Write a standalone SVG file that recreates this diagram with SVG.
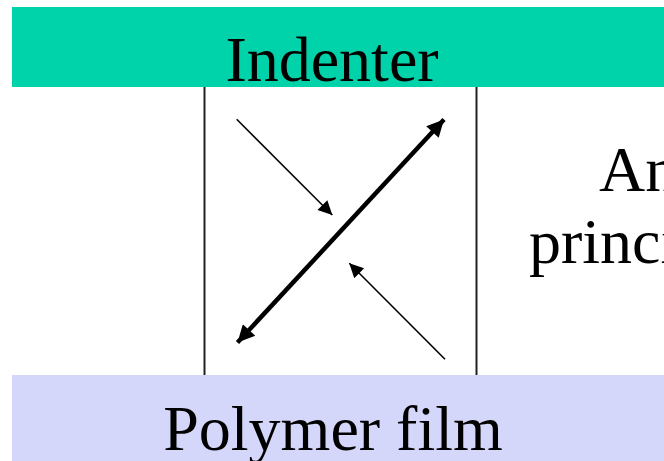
<svg xmlns="http://www.w3.org/2000/svg" width="664" height="461" viewBox="0 0 664 461">
<defs>
<style>
.lbl{font-family:"Liberation Serif","Times New Roman",serif;font-size:64px;fill:#000}
.wall{stroke:#222;stroke-width:2;fill:none}
.thin{stroke:#000;stroke-width:1.6;fill:none}
.thick{stroke:#000;stroke-width:4.5;fill:none}
</style>
<marker id="ahs" viewBox="0 0 10 10" refX="10" refY="5" markerWidth="17" markerHeight="14" markerUnits="userSpaceOnUse" orient="auto"><path d="M0,0 L10,5 L0,10 z" fill="#000"/></marker>
<marker id="ahb" viewBox="0 0 10 10" refX="10" refY="5" markerWidth="20" markerHeight="17" markerUnits="userSpaceOnUse" orient="auto-start-reverse"><path d="M0,0 L10,5 L0,10 z" fill="#000"/></marker>
</defs>
<rect width="664" height="461" fill="#fff"/>
<g id="indenter">
<rect x="12" y="7" width="652" height="80" fill="#00D3AA"/>
<text class="lbl" x="332" y="81" text-anchor="middle">Indenter</text>
</g>
<g id="film">
<rect x="12" y="375" width="652" height="86" fill="#D5D7FA"/>
<text class="lbl" x="333" y="450" text-anchor="middle">Polymer film</text>
</g>
<g id="walls">
<line class="wall" x1="204.5" y1="87" x2="204.5" y2="375"/>
<line class="wall" x1="476.5" y1="87" x2="476.5" y2="375"/>
</g>
<g id="side-text">
<text class="lbl" x="599" y="191" font-size="62">An</text>
<text class="lbl" x="529" y="263" font-size="62">princi</text>
</g>
<g id="connectors">
<line class="thick" x1="237.5" y1="342.5" x2="444" y2="119.5" marker-start="url(#ahb)" marker-end="url(#ahb)"/>
<line class="thin" x1="236.7" y1="119.3" x2="332.3" y2="215" marker-end="url(#ahs)"/>
<line class="thin" x1="445" y1="359.3" x2="349.3" y2="263.3" marker-end="url(#ahs)"/>
</g>
</svg>
